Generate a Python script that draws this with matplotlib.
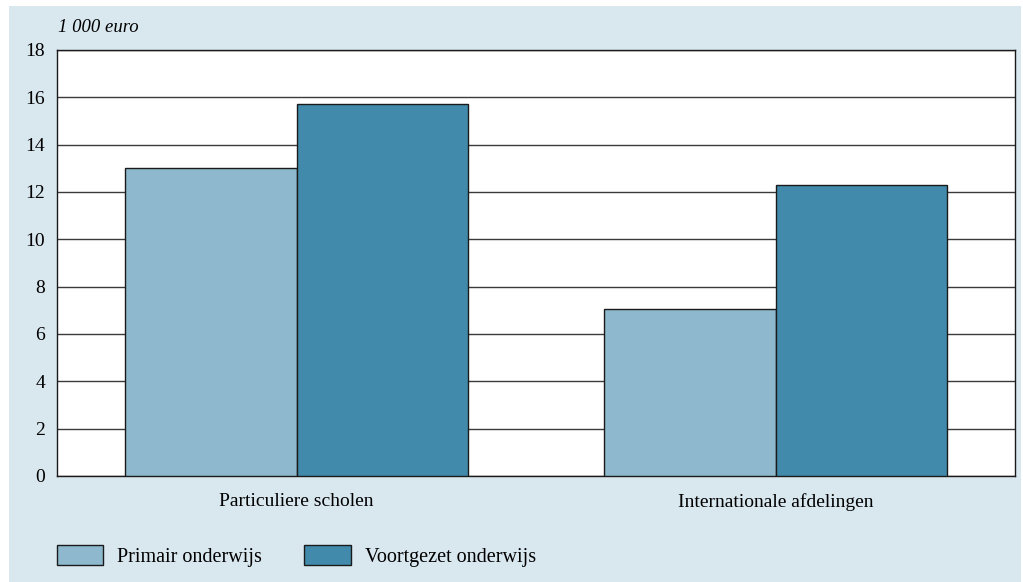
import matplotlib
matplotlib.use("Agg")
import matplotlib.pyplot as plt
from matplotlib.patches import Rectangle, Patch
import numpy as np

categories = ["Particuliere scholen", "Internationale afdelingen"]
series_names = ["Primair onderwijs", "Voortgezet onderwijs"]
primair = [13.0, 7.05]
voortgezet = [15.7, 12.3]
yticks = [0, 2, 4, 6, 8, 10, 12, 14, 16, 18]
unit_label = "1 000 euro"

colors = ["#8db8cd", "#418aab"]
bg = "#d9e7ef"

plt.rcParams['font.family'] = ['Liberation Serif', 'DejaVu Serif']
FS = 14
LFS = 14.5

W, H = 1023, 582
fig = plt.figure(figsize=(W / 100, H / 100), dpi=100)
fig.patches.append(Rectangle((9 / W, 0), (1021 - 9) / W, (582 - 6) / H,
                             transform=fig.transFigure, facecolor=bg,
                             edgecolor='none', zorder=-10))

ax = fig.add_axes([57 / W, 1 - 476 / H, (1015 - 57) / W, (476 - 50) / H])
ax.set_facecolor('white')

x = np.arange(len(categories))
w = 0.357
ax.bar(x - w / 2, primair, width=w, color=colors[0], edgecolor='#1a1a1a',
       linewidth=1.0, zorder=3)
ax.bar(x + w / 2, voortgezet, width=w, color=colors[1], edgecolor='#1a1a1a',
       linewidth=1.0, zorder=3)

ax.set_xlim(-0.5, 1.5)
ax.set_ylim(0, 18)
ax.set_yticks(yticks)
ax.set_yticklabels([str(t) for t in yticks], fontsize=FS)
ax.set_xticks(x)
ax.set_xticklabels(categories, fontsize=FS)
ax.tick_params(axis='both', length=0)
ax.tick_params(axis='y', pad=8.5)
ax.tick_params(axis='x', pad=12)
ax.yaxis.grid(True, color='#3a3a3a', linewidth=1.0, zorder=0)
ax.set_axisbelow(True)
for s in ['left', 'bottom', 'right', 'top']:
    ax.spines[s].set_color('#1a1a1a')
    ax.spines[s].set_linewidth(1.0)

fig.text(58 / W, 1 - 28 / H, unit_label, fontsize=13.5, style='italic',
         ha='left', va='center')

handles = [Patch(facecolor=colors[0], edgecolor='#1a1a1a', linewidth=1.0),
           Patch(facecolor=colors[1], edgecolor='#1a1a1a', linewidth=1.0)]
fig.legend(handles, series_names, loc='center left',
           bbox_to_anchor=(57 / W, 1 - 556 / H), ncol=2, frameon=False,
           fontsize=LFS, handlelength=2.29, handleheight=1.14,
           handletextpad=0.7, columnspacing=2.1, borderaxespad=0,
           borderpad=0)

fig.savefig("out.png", dpi=100)
